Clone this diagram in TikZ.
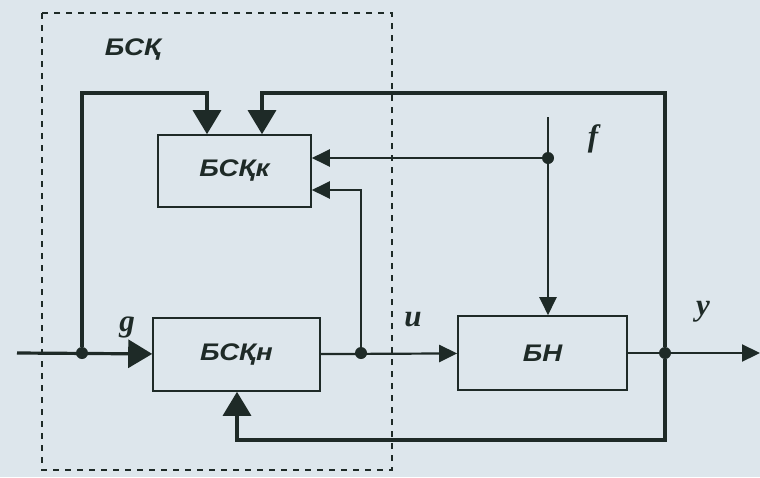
\documentclass[tikz,border=0pt]{standalone}
\usepackage{fontspec}
\setmainfont{Liberation Serif}
\newfontfamily\blkfont[FakeStretch=1.15]{Liberation Sans}
\usepackage{xcolor}
\usetikzlibrary{arrows.meta,positioning,calc}
\definecolor{paper}{HTML}{DDE6EC}
\definecolor{ink}{HTML}{1E2A27}

\begin{document}
\begin{tikzpicture}[x=1pt, y=-1pt,
                      blk/.style={draw=ink, line width=1.6pt, fill=paper,
                                  inner sep=0pt, text=ink,
                                  font=\blkfont\fontsize{24}{27}\selectfont\bfseries\itshape},
                      lbl/.style={text=ink, inner sep=1pt,
                                  font=\fontsize{31}{34}\selectfont\bfseries\itshape},
                      dot/.style={circle, fill=ink, inner sep=0pt, minimum size=12pt},
                      sig/.style={draw=ink, line width=2.2pt},
                      fb/.style={draw=ink, line width=3.2pt},
                      bigarr/.style={-{Triangle[length=24pt, width=28pt]}},
                      smlarr/.style={-{Triangle[length=18pt, width=17pt]}},
                      frame/.style={draw=ink, line width=1.8pt, dash pattern=on 6pt off 6pt}]
    \fill[paper] (0,0) rectangle (760,477);
    \useasboundingbox (0,0) rectangle (760,477);

    % dotted frame of the controller
    \draw[frame] (42,13) rectangle (392,470);
    \node[text=ink, font=\blkfont\fontsize{24}{27}\selectfont\bfseries\itshape] (bsk) at (133,50) {БСҚ};

    % blocks
    \node[blk, minimum width=153pt, minimum height=72pt] (bskk) at (234.5,171) {БСҚк};
    \node[blk, minimum width=167pt, minimum height=73pt] (bskn) at (236.5,354.5) {БСҚн};
    \node[blk, minimum width=169pt, minimum height=74pt] (bn) at (542.5,353) {БН};

    % branch points
    \coordinate (in) at (17,353);
    \coordinate (out) at (760,353);
    \coordinate (ftop) at (548,117);
    \node[dot] (jg) at (82,353) {};
    \node[dot] (ju) at (361,353) {};
    \node[dot] (jy) at (665,353) {};
    \node[dot] (jf) at (548,158) {};

    % signal labels
    \node[lbl] (g) at (127,327) {g};
    \node[lbl] (u) at (413,320) {u};
    \node[lbl] (y) at (703,312) {y};
    \node[lbl] (f) at (593,139) {f};

    % main chain
    \draw[fb, bigarr] (in) -- (bskn);
    \draw[sig, smlarr] (bskn) -- (bn);
    \draw[sig] (bn) -- (jy);
    \draw[sig, smlarr] (jy) -- (out);

    % disturbance f
    \draw[sig, smlarr] (ftop) -- (ftop |- bn.north);
    \draw[sig, smlarr] (jf) -- (bskk.east |- jf);

    % feeds into БСҚк
    \draw[sig, smlarr] (ju) |- (bskk.east |- 0,190);
    \draw[fb, bigarr] (jg) |- (207,93) -- (bskk.north -| 207,0);
    \draw[fb, bigarr] (jy) |- (262,93) -- (bskk.north -| 262,0);

    % feedback into БСҚн
    \draw[fb, bigarr] (jy) |- (237,440) -- (bskn.south -| 237,0);
  \end{tikzpicture}
\end{document}
